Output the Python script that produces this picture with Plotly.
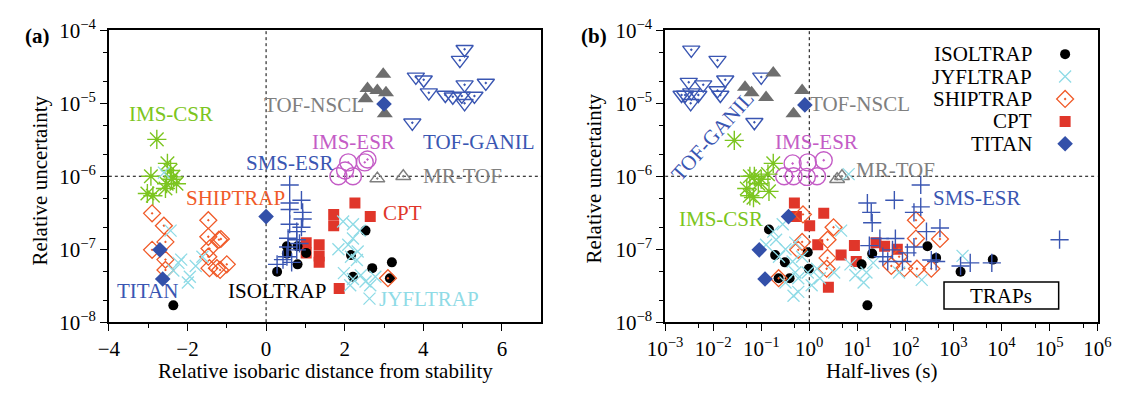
import plotly.graph_objects as go

# ---------------- data : panel (a) relative isobaric distance ----------------
ISOLTRAP_A_X = [-2.36, 0.28, 0.53, 0.80, 0.53, 1.02, 0.80, 2.53, 2.16, 2.70, 2.21, 3.20, 3.15]
ISOLTRAP_A_Y = [1.7e-8, 4.9e-8, 1.1e-7, 1.1e-7, 8.7e-8, 8.9e-8, 6.2e-8, 1.8e-7, 8.3e-8, 5.5e-8, 4.2e-8, 6.6e-8, 4.0e-8]

JYFLTRAP_A_X = [-2.60, -2.43, -2.23, -2.36, -1.94, -1.99, -1.79, -1.62, -2.16,
                1.96, 2.21, 2.38, 1.84, 2.09, 2.21, 2.33, 2.16, 2.31, 1.98, 2.21, 2.41, 2.53, 2.65, 2.63, 2.14, 2.78]
JYFLTRAP_A_Y = [1.12e-6, 1.8e-7, 6.5e-8, 5.1e-8, 4.2e-8, 3.5e-8, 5.9e-8, 7.9e-8, 7.2e-8,
                2.4e-7, 2.2e-7, 1.8e-7, 1.0e-7, 1.15e-7, 1.4e-7, 9.3e-8, 7.9e-8, 7.1e-8, 4.7e-8, 3.9e-8, 4.4e-8, 3.6e-8, 3.2e-8, 2.1e-8, 3.2e-8, 4.2e-8]

SHIPTRAP_A_X = [-2.90, -2.60, -2.56, -2.90, -2.56, -2.56, -1.47, -1.47, -1.20, -1.15, -1.44, -1.47, -1.44, -1.25, -1.17, -1.00, 3.10]
SHIPTRAP_A_Y = [3.1e-7, 2.1e-7, 1.26e-7, 9.8e-8, 7.2e-8, 5.2e-8, 2.5e-7, 1.48e-7, 1.35e-7, 1.38e-7, 1.02e-7, 7.9e-8, 5.5e-8, 5.5e-8, 5.2e-8, 6.2e-8, 4.0e-8]

CPT_A_X = [2.26, 1.72, 2.65, 1.72, 1.02, 1.35, 1.02, 1.35, 1.35, 1.86]
CPT_A_Y = [4.3e-7, 3.0e-7, 2.8e-7, 2.1e-7, 1.23e-7, 1.15e-7, 8.9e-8, 8.1e-8, 6.6e-8, 2.9e-8]

TITAN_A_X = [-2.70, -2.63, 0.0, 3.00]
TITAN_A_Y = [9.8e-8, 3.9e-8, 2.8e-7, 9.8e-6]

SMSESR_A_X = [0.60, 0.60, 0.90, 0.60, 0.93, 0.93, 0.60, 0.90, 0.78, 0.56, 0.78, 0.85, 0.56, 0.78, 0.53, 0.43, 0.65, 0.28]
SMSESR_A_Y = [7.6e-7, 4.3e-7, 4.7e-7, 3.5e-7, 3.2e-7, 2.6e-7, 2.2e-7, 2.0e-7, 1.74e-7, 1.41e-7, 1.35e-7, 1.2e-7, 1.07e-7, 9.8e-8, 7.9e-8, 7.2e-8, 6.6e-8, 6.2e-8]

IMSESR_A_X = [2.09, 2.51, 1.84, 2.21, 2.01, 2.58]
IMSESR_A_Y = [1.55e-6, 1.55e-6, 1.0e-6, 1.0e-6, 1.2e-6, 1.7e-6]

MRTOF_A_X = [2.83, 3.49]
MRTOF_A_Y = [9.3e-7, 1.0e-6]

TOFNSCL_A_X = [2.98, 2.58, 2.83, 3.05, 2.53, 3.02]
TOFNSCL_A_Y = [2.5e-5, 1.6e-5, 1.5e-5, 1.4e-5, 1.15e-5, 7.2e-6]

TOFGANIL_A_X = [5.05, 4.93, 3.81, 4.01, 4.14, 4.56, 4.75, 5.05, 4.98, 5.30, 5.05, 5.59, 3.72]
TOFGANIL_A_Y = [5.5e-5, 3.9e-5, 2.3e-5, 2.1e-5, 1.4e-5, 1.3e-5, 1.23e-5, 1.8e-5, 1.26e-5, 1.26e-5, 1.0e-5, 1.9e-5, 5.4e-6]

IMSCSR_A_X = [-2.78, -2.93, -2.51, -2.43, -2.36, -2.28, -2.53, -3.02, -2.88, -2.56, -2.41]
IMSCSR_A_Y = [3.2e-6, 1.0e-6, 1.5e-6, 1.2e-6, 9.8e-7, 7.9e-7, 7.9e-7, 5.8e-7, 5.4e-7, 6.8e-7, 9.1e-7]

# ---------------- data : panel (b) half-lives ----------------
ISOLTRAP_B_X = [0.145, 0.195, 0.31, 0.39, 0.93, 0.98, 0.23, 16.2, 20.4, 12.3, 288, 437, 1410, 6600]
ISOLTRAP_B_Y = [1.86e-7, 8.3e-8, 6.6e-8, 4.0e-8, 9.1e-8, 5.4e-8, 4.0e-8, 1.7e-8, 8.7e-8, 6.2e-8, 1.1e-7, 7.6e-8, 4.9e-8, 7.2e-8]

JYFLTRAP_B_X = [6.6, 0.28, 0.178, 0.204, 0.126, 0.32, 0.51, 0.234, 0.45, 0.71, 0.51, 0.32, 0.59, 0.93, 1.45,
                1.66, 0.59, 0.47, 1.12, 3.3, 4.6, 7.2, 9.1, 13.5, 15.5, 21.4, 74, 219, 1550]
JYFLTRAP_B_Y = [1.07e-6, 2.2e-7, 1.74e-7, 1.35e-7, 1.15e-7, 1.0e-7, 1.23e-7, 7.9e-8, 6.8e-8, 7.9e-8, 4.8e-8, 3.5e-8, 4.0e-8, 4.8e-8, 5.4e-8,
                4.0e-8, 2.6e-8, 2.3e-8, 3.2e-8, 4.8e-8, 1.8e-7, 6.2e-8, 4.4e-8, 3.5e-8, 4.8e-8, 6.5e-8, 4.8e-8, 3.8e-8, 8.1e-8]

SHIPTRAP_B_X = [0.74, 3.2, 2.4, 0.71, 0.59, 2.4, 2.3, 0.23, 166, 166, 525, 74, 51, 95, 174, 347]
SHIPTRAP_B_Y = [3.0e-7, 2.0e-7, 1.35e-7, 1.26e-7, 9.8e-8, 7.6e-8, 5.4e-8, 4.0e-8, 2.5e-7, 1.4e-7, 1.38e-7, 7.9e-8, 5.9e-8, 5.5e-8, 5.4e-8, 5.4e-8]

CPT_B_X = [0.49, 0.54, 1.02, 2.0, 1.5, 4.6, 8.7, 9.5, 2.5, 24.5, 37, 68]
CPT_B_Y = [4.3e-7, 2.8e-7, 2.1e-7, 3.1e-7, 1.15e-7, 8.3e-8, 1.12e-7, 6.8e-8, 3.0e-8, 1.23e-7, 1.1e-7, 1.0e-7]

TITAN_B_X = [0.81, 0.37, 0.091, 0.12]
TITAN_B_Y = [9.5e-6, 2.8e-7, 9.8e-8, 3.9e-8]

SMSESR_B_X = [209, 16.2, 19.5, 20.4, 59, 151, 209, 275, 525, 29.5, 62, 17.8, 34, 110, 151, 347, 1410, 2240, 6300, 437, 43, 87, 54, 162000]
SMSESR_B_Y = [7.6e-7, 4.3e-7, 3.2e-7, 2.3e-7, 4.7e-7, 3.2e-7, 3.8e-7, 1.74e-7, 1.95e-7, 1.4e-7, 1.4e-7, 1.12e-7, 7.9e-8, 8.9e-8, 1.07e-7,
              7.1e-8, 5.9e-8, 6.5e-8, 6.5e-8, 6.8e-8, 6.8e-8, 6.8e-8, 9.8e-8, 1.35e-7]

IMSESR_B_X = [0.45, 0.93, 2.0, 0.30, 0.47, 0.89, 1.45]
IMSESR_B_Y = [1.5e-6, 1.55e-6, 1.66e-6, 1.0e-6, 1.0e-6, 9.8e-7, 1.0e-6]

MRTOF_B_X = [3.8, 4.8]
MRTOF_B_Y = [9.1e-7, 1.0e-6]

TOFNSCL_B_X = [0.178, 0.046, 0.063, 0.126, 0.71, 0.47]
TOFNSCL_B_Y = [2.6e-5, 1.66e-5, 1.4e-5, 1.2e-5, 1.5e-5, 7.2e-6]

TOFGANIL_B_X = [0.0035, 0.0123, 0.0031, 0.0062, 0.0178, 0.10, 0.0026, 0.0035, 0.0049, 0.0123, 0.0141, 0.0022, 0.0034, 0.072]
TOFGANIL_B_Y = [5.4e-5, 3.9e-5, 1.95e-5, 1.8e-5, 2.1e-5, 2.3e-5, 1.3e-5, 1.4e-5, 1.3e-5, 1.5e-5, 1.3e-5, 1.3e-5, 1.0e-5, 5.5e-6]

IMSCSR_B_X = [0.0275, 0.178, 0.072, 0.058, 0.138, 0.087, 0.050, 0.145, 0.058, 0.069, 0.10]
IMSCSR_B_Y = [3.1e-6, 1.5e-6, 1.0e-6, 1.0e-6, 1.07e-6, 7.9e-7, 6.8e-7, 6.2e-7, 5.4e-7, 5.1e-7, 9.1e-7]

# ---------------- axis ticks ----------------
XA_TICKS = [-4, -2, 0, 2, 4, 6]
XA_TICKTEXT = ["\u22124", "\u22122", "0", "2", "4", "6"]
XA_MINOR = [-3, -1, 1, 3, 5]
Y_TICKS = [1e-8, 1e-7, 1e-6, 1e-5, 1e-4]
Y_TICKTEXT = ["10<sup>\u22128</sup>", "10<sup>\u22127</sup>", "10<sup>\u22126</sup>", "10<sup>\u22125</sup>", "10<sup>\u22124</sup>"]
Y_MINOR = [2e-8, 5e-8, 2e-7, 5e-7, 2e-6, 5e-6, 2e-5, 5e-5]
XB_TICKS = [1e-3, 1e-2, 1e-1, 1, 10, 100, 1e3, 1e4, 1e5, 1e6]
XB_TICKTEXT = ["10<sup>\u22123</sup>", "10<sup>\u22122</sup>", "10<sup>\u22121</sup>", "10<sup>0</sup>", "10<sup>1</sup>",
               "10<sup>2</sup>", "10<sup>3</sup>", "10<sup>4</sup>", "10<sup>5</sup>", "10<sup>6</sup>"]
XB_MINOR = [5e-3, 5e-2, 5e-1, 5, 50, 500, 5e3, 5e4, 5e5]

LEGEND_NAMES = ["ISOLTRAP", "JYFLTRAP", "SHIPTRAP", "CPT", "TITAN"]

# ---------------- styles ----------------
W, H = 1130, 393
FONT = "Liberation Serif, Times New Roman, serif"
C_BLACK = "#000000"
C_CYAN = "#8fdbe6"
C_ORANGE = "#f05a28"
C_RED = "#e0362a"
C_NAVY = "#3350a9"
C_BLUE = "#3a56b2"
C_MAGENTA = "#c45cc6"
C_GRAY = "#7f7f7f"
C_DGRAY = "#6e6e6e"
C_GREEN = "#7cc520"

STYLES = {
    "ISOLTRAP": dict(symbol="circle", size=10, color=C_BLACK),
    "JYFLTRAP": dict(symbol="x-thin", size=12, color=C_CYAN, line=dict(color=C_CYAN, width=1.3)),
    "SHIPTRAP": dict(symbol="diamond-open-dot", size=13, color=C_ORANGE, line=dict(color=C_ORANGE, width=1.3)),
    "CPT": dict(symbol="square", size=11, color=C_RED),
    "TITAN": dict(symbol="diamond", size=12, color=C_NAVY),
    "SMSESR": dict(symbol="cross-thin", size=13, color=C_BLUE, line=dict(color=C_BLUE, width=1.4)),
    "IMSESR": dict(symbol="circle-open-dot", size=17, color=C_MAGENTA, line=dict(color=C_MAGENTA, width=1.4)),
    "MRTOF": dict(symbol="triangle-up-open-dot", size=13, color=C_GRAY, line=dict(color=C_GRAY, width=1.4)),
    "TOFNSCL": dict(symbol="triangle-up", size=14, color=C_DGRAY),
    "TOFGANIL": dict(symbol="triangle-down-open-dot", size=15, color=C_BLUE, line=dict(color=C_BLUE, width=1.4)),
    "IMSCSR": dict(symbol="asterisk-open", size=16, color=C_GREEN, line=dict(color=C_GREEN, width=1.4)),
}

fig = go.Figure()

def add(xs, ys, key, xa, ya):
    fig.add_trace(go.Scatter(x=xs, y=ys, mode="markers", marker=STYLES[key],
                             xaxis=xa, yaxis=ya, showlegend=False, hoverinfo="skip"))

# reference dotted lines (drawn through axes)
fig.add_trace(go.Scatter(x=[0, 0], y=[1e-8, 1e-4], mode="lines", line=dict(color="black", width=1, dash="dot"),
                         xaxis="x", yaxis="y", showlegend=False, hoverinfo="skip"))
fig.add_trace(go.Scatter(x=[-4, 7], y=[1e-6, 1e-6], mode="lines", line=dict(color="black", width=1, dash="dot"),
                         xaxis="x", yaxis="y", showlegend=False, hoverinfo="skip"))
fig.add_trace(go.Scatter(x=[1, 1], y=[1e-8, 1e-4], mode="lines", line=dict(color="black", width=1, dash="dot"),
                         xaxis="x2", yaxis="y2", showlegend=False, hoverinfo="skip"))
fig.add_trace(go.Scatter(x=[1e-3, 1e6], y=[1e-6, 1e-6], mode="lines", line=dict(color="black", width=1, dash="dot"),
                         xaxis="x2", yaxis="y2", showlegend=False, hoverinfo="skip"))

series_a = [
    (TOFGANIL_A_X, TOFGANIL_A_Y, "TOFGANIL"), (TOFNSCL_A_X, TOFNSCL_A_Y, "TOFNSCL"),
    (MRTOF_A_X, MRTOF_A_Y, "MRTOF"), (IMSESR_A_X, IMSESR_A_Y, "IMSESR"),
    (IMSCSR_A_X, IMSCSR_A_Y, "IMSCSR"), (CPT_A_X, CPT_A_Y, "CPT"),
    (ISOLTRAP_A_X, ISOLTRAP_A_Y, "ISOLTRAP"), (SHIPTRAP_A_X, SHIPTRAP_A_Y, "SHIPTRAP"),
    (JYFLTRAP_A_X, JYFLTRAP_A_Y, "JYFLTRAP"), (SMSESR_A_X, SMSESR_A_Y, "SMSESR"),
    (TITAN_A_X, TITAN_A_Y, "TITAN"),
]
series_b = [
    (TOFGANIL_B_X, TOFGANIL_B_Y, "TOFGANIL"), (TOFNSCL_B_X, TOFNSCL_B_Y, "TOFNSCL"),
    (MRTOF_B_X, MRTOF_B_Y, "MRTOF"), (IMSESR_B_X, IMSESR_B_Y, "IMSESR"),
    (IMSCSR_B_X, IMSCSR_B_Y, "IMSCSR"), (CPT_B_X, CPT_B_Y, "CPT"),
    (ISOLTRAP_B_X, ISOLTRAP_B_Y, "ISOLTRAP"), (SHIPTRAP_B_X, SHIPTRAP_B_Y, "SHIPTRAP"),
    (JYFLTRAP_B_X, JYFLTRAP_B_Y, "JYFLTRAP"), (SMSESR_B_X, SMSESR_B_Y, "SMSESR"),
    (TITAN_B_X, TITAN_B_Y, "TITAN"),
]
for xs, ys, k in series_a:
    add(xs, ys, k, "x", "y")
for xs, ys, k in series_b:
    add(xs, ys, k, "x2", "y2")

# legend markers on an invisible overlay axis of panel (b)
LEG_ROWS_PX = [43, 67, 91, 115, 139]
Y_TOP, Y_BOT = 17.5, 330.0
leg_y = [(Y_BOT - p) / (Y_BOT - Y_TOP) for p in LEG_ROWS_PX]
leg_keys = ["ISOLTRAP", "JYFLTRAP", "SHIPTRAP", "CPT", "TITAN"]
for k, yy in zip(leg_keys, leg_y):
    fig.add_trace(go.Scatter(x=[0.925], y=[yy], mode="markers", marker=STYLES[k],
                             xaxis="x3", yaxis="y3", showlegend=False, hoverinfo="skip"))

XA_DOM = [93.5 / W, 538.5 / W]
XB_DOM = [666 / W, 1111 / W]
Y_DOM = [1 - Y_BOT / H, 1 - Y_TOP / H]

axis_common = dict(showline=True, linecolor="black", linewidth=1.6, mirror=True, showgrid=False, zeroline=False,
                   ticks="outside", ticklen=7, tickwidth=1.2, tickcolor="black",
                   tickfont=dict(family=FONT, size=21, color="black"))
minor_common = dict(ticks="outside", ticklen=4, tickwidth=1.2, tickcolor="black", showgrid=False)

fig.update_layout(
    width=W, height=H, margin=dict(l=0, r=0, t=0, b=0),
    paper_bgcolor="white", plot_bgcolor="rgba(0,0,0,0)",
    showlegend=False,
    xaxis=dict(domain=XA_DOM, anchor="y", range=[-4, 7], tickvals=XA_TICKS, ticktext=XA_TICKTEXT,
               minor=dict(tickvals=XA_MINOR, **minor_common), **axis_common),
    yaxis=dict(domain=Y_DOM, anchor="x", type="log", range=[-8, -4], tickvals=Y_TICKS, ticktext=Y_TICKTEXT,
               minor=dict(tickvals=Y_MINOR, **minor_common), **axis_common),
    xaxis2=dict(domain=XB_DOM, anchor="y2", type="log", range=[-3, 6], tickvals=XB_TICKS, ticktext=XB_TICKTEXT,
                minor=dict(tickvals=XB_MINOR, **minor_common), **axis_common),
    yaxis2=dict(domain=Y_DOM, anchor="x2", type="log", range=[-8, -4], tickvals=Y_TICKS, ticktext=Y_TICKTEXT,
                minor=dict(tickvals=Y_MINOR, **minor_common), **axis_common),
    xaxis3=dict(overlaying="x2", anchor="y3", range=[0, 1], visible=False),
    yaxis3=dict(overlaying="y2", anchor="x3", range=[0, 1], visible=False),
)

def ann(text, px, py, color, size=21, angle=0, xanchor="center", bold=False):
    fig.add_annotation(text=("<b>%s</b>" % text) if bold else text, x=px / W, y=1 - py / H,
                       xref="paper", yref="paper", showarrow=False, xanchor=xanchor, yanchor="middle",
                       textangle=angle, font=dict(family=FONT, size=size, color=color))

# panel labels and axis titles
ann("(a)", 20, 24, "black", size=21, bold=True)
ann("(b)", 593, 24, "black", size=21, bold=True)
ann("Relative uncertainty", 23, 178, "black", size=21, angle=-90)
ann("Relative uncertainty", 593, 176, "black", size=21, angle=-90)
ann("Relative isobaric distance from stability", 316, 382.5, "black", size=21)
ann("Half-lives (s)", 889, 382.5, "black", size=21)

# panel (a) group labels
ann("IMS-CSR", 157, 107, C_GREEN)
ann("SHIPTRAP", 224, 197, C_ORANGE)
ann("TITAN", 133, 297, C_BLUE)
ann("ISOLTRAP", 267, 297, "black")
ann("JYFLTRAP", 423, 305, C_CYAN)
ann("CPT", 396, 213, C_RED)
ann("SMS-ESR", 280, 160, C_BLUE)
ann("IMS-ESR", 345, 137, C_MAGENTA)
ann("MR-TOF", 457, 173, C_GRAY)
ann("TOF-NSCL", 305, 97, C_GRAY)
ann("TOF-GANIL", 474, 137, C_BLUE)

# panel (b) group labels
ann("TOF-NSCL", 867, 96, C_GRAY)
ann("TOF-GANIL", 715, 131, C_BLUE, angle=-48)
ann("IMS-ESR", 822, 137, C_MAGENTA)
ann("MR-TOF", 903, 167, C_GRAY)
ann("IMS-CSR", 723, 220, C_GREEN)
ann("SMS-ESR", 987, 197, C_BLUE)

# legend texts
for name, p in zip(LEGEND_NAMES, LEG_ROWS_PX):
    ann(name, 1046, p, "black", xanchor="right")

# TRAPs box
fig.add_shape(type="rect", xref="paper", yref="paper", x0=953 / W, x1=1071 / W, y0=1 - 316 / H, y1=1 - 287 / H,
              line=dict(color="black", width=1.5), fillcolor="white")
ann("TRAPs", 1012, 302, "black")

fig.write_html("out.html")
